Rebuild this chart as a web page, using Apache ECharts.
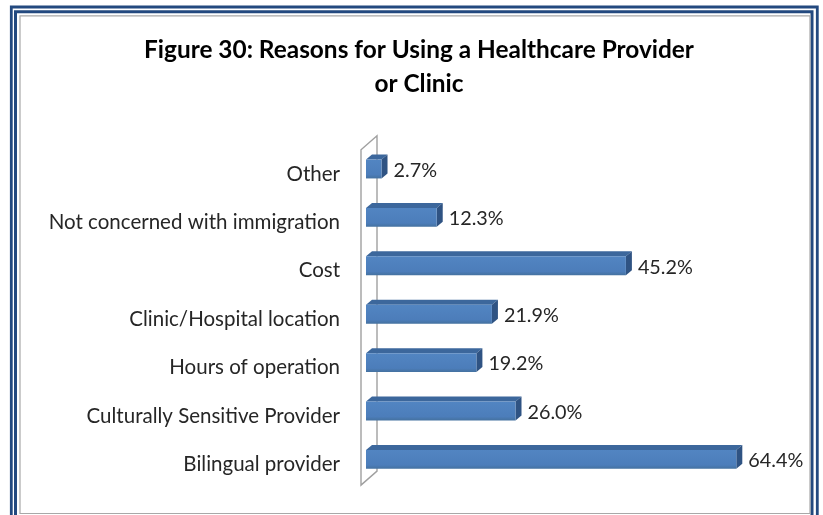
<!DOCTYPE html>
<html>
<head>
<meta charset="utf-8">
<script src="https://cdn.jsdelivr.net/npm/echarts@6/dist/echarts.min.js"></script>
<style>
html,body{margin:0;padding:0;background:#fff;}
#chart{width:823px;height:515px;}
</style>
</head>
<body>
<div id="chart"></div>
<script>
const titleText = 'Figure 30: Reasons for Using a Healthcare Provider\nor Clinic';
const categories = ['Other', 'Not concerned with immigration', 'Cost', 'Clinic/Hospital location', 'Hours of operation', 'Culturally Sensitive Provider', 'Bilingual provider'];
const values = [2.7, 12.3, 45.2, 21.9, 19.2, 26.0, 64.4];

const FONT = 'Lato';
const TOP = '#3C679C';
const SIDE = '#2F5383';
const DX = 6, DY = 5;

function renderBar(params, api) {
  const v = api.value(0);
  const ci = api.value(1);
  const p0 = api.coord([0, ci]);
  const p1 = api.coord([v, ci]);
  const band = api.size([0, 1])[1];
  const h = band * 0.39;
  const x0 = p0[0], x1 = p1[0];
  const yt = p0[1] - h / 2, yb = p0[1] + h / 2;
  return {
    type: 'group',
    children: [
      { type: 'polygon', shape: { points: [[x0, yt], [x0 + DX, yt - DY], [x1 + DX, yt - DY], [x1, yt]] }, style: { fill: TOP } },
      { type: 'polygon', shape: { points: [[x1, yt], [x1 + DX, yt - DY], [x1 + DX, yb - DY], [x1, yb]] }, style: { fill: SIDE } },
      { type: 'rect', shape: { x: x0, y: yt, width: x1 - x0, height: h },
        style: { fill: new echarts.graphic.LinearGradient(0, 0, 0, 1, [
          { offset: 0, color: '#5285C2' }, { offset: 0.8, color: '#4C7DBA' }, { offset: 1, color: '#44719F' }]) } },
      { type: 'text', x: x1 + 12, y: p0[1] + 1.5,
        style: { text: v.toFixed(1) + '%', fill: '#262626', font: '19.8px ' + FONT, textAlign: 'left', textVerticalAlign: 'middle' } }
    ]
  };
}

function renderWall(params, api) {
  const cs = params.coordSys;
  const fx = cs.x - 5, ftop = cs.y + 5, fbot = cs.y + cs.height + 1.5;
  const bx = fx + 16, btop = ftop - 14, bbot = fbot - 14;
  return {
    type: 'polygon',
    shape: { points: [[fx, fbot], [fx, ftop], [bx, btop], [bx, bbot]] },
    style: { fill: 'none', stroke: '#A0A0A0', lineWidth: 1.4 }
  };
}

const chart = echarts.init(document.getElementById('chart'), null, { renderer: 'canvas' });
chart.setOption({
  animation: false,
  backgroundColor: '#fff',
  title: {
    text: titleText,
    left: 414, top: 28, textAlign: 'center',
    textStyle: { fontFamily: FONT, fontSize: 24.4, fontWeight: 'bold', color: '#000', lineHeight: 34 }
  },
  graphic: [
    { type: 'rect', shape: { x: 11.3, y: 7, width: 806, height: 540 }, style: { fill: 'none', stroke: '#23497F', lineWidth: 2.8 }, silent: true },
    { type: 'rect', shape: { x: 15.5, y: 11.7, width: 796.5, height: 540 }, style: { fill: 'none', stroke: '#23497F', lineWidth: 3 }, silent: true },
    { type: 'rect', shape: { x: 20, y: 15.8, width: 790, height: 497.7 }, style: { fill: 'none', stroke: '#A8A8A8', lineWidth: 1.2 }, silent: true }
  ],
  grid: { left: 366, top: 144.8, width: 402.5, height: 338.8, containLabel: false },
  xAxis: { type: 'value', min: 0, max: 70, show: false },
  yAxis: {
    type: 'category', data: categories, inverse: true,
    axisLine: { show: false }, axisTick: { show: false }, splitLine: { show: false },
    axisLabel: { margin: 26, fontFamily: FONT, fontSize: 20.5, color: '#262626', verticalAlign: 'top', lineHeight: 10 }
  },
  series: [
    { type: 'custom', renderItem: renderWall, data: [[0, 0]], z: 1, silent: true },
    { type: 'custom', renderItem: renderBar, data: values.map((v, i) => [v, i]), z: 2,
      encode: { x: 0, y: 1 } }
  ]
});
</script>
</body>
</html>
